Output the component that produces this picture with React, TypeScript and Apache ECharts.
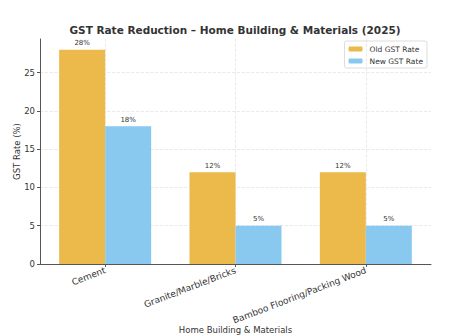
import React, { useEffect, useRef } from "react";
import * as echarts from "echarts";

const categories = ["Cement", "Granite/Marble/Bricks", "Bamboo Flooring/Packing Wood"];
const oldRates = [28, 12, 12];
const newRates = [18, 5, 5];
const seriesNames = ["Old GST Rate", "New GST Rate"];
const titleText = "GST Rate Reduction – Home Building & Materials (2025)";
const xName = "Home Building & Materials";
const yName = "GST Rate (%)";

const FONT = "DejaVu Sans";

export default function App() {
  const ref = useRef<HTMLDivElement>(null);
  useEffect(() => {
    if (!ref.current) return;
    const chart = echarts.init(ref.current, null, { renderer: "svg" });
    const labelCfg = {
      show: true,
      position: "top",
      distance: 3,
      fontFamily: FONT,
      fontSize: 7,
      color: "#333",
      formatter: (p: any) => `${p.value}%`,
    };
    chart.setOption({
      animation: false,
      backgroundColor: "#fff",
      textStyle: { fontFamily: FONT },
      title: {
        text: titleText,
        left: 235,
        textAlign: "center",
        top: 24,
        padding: 0,
        textStyle: { fontFamily: FONT, fontSize: 10.5, fontWeight: "bold", color: "#333" },
      },
      legend: {
        orient: "vertical",
        right: 24,
        top: 41,
        data: seriesNames,
        itemWidth: 14,
        itemHeight: 5,
        itemGap: 4,
        padding: [4, 4, 3, 4],
        borderColor: "#ddd",
        borderWidth: 1,
        borderRadius: 2,
        textStyle: { fontFamily: FONT, fontSize: 7.5, color: "#333", padding: [0, 0, 0, 2] },
      },
      grid: { left: 40, right: 20, top: 39, bottom: 72, containLabel: false, outerBoundsMode: "none" },
      xAxis: {
        type: "category",
        data: categories,
        name: xName,
        nameLocation: "middle",
        nameGap: 61,
        nameMoveOverlap: false,
        nameTextStyle: { fontFamily: FONT, fontSize: 8.5, color: "#333" },
        axisLine: { lineStyle: { color: "#555", width: 1 } },
        axisTick: { show: true, alignWithLabel: true, length: 3, lineStyle: { color: "#555" } },
        axisLabel: { rotate: 21, fontFamily: FONT, fontSize: 9, color: "#333", margin: 6, interval: 0 },
        splitLine: { show: true, alignWithLabel: true, lineStyle: { color: "#e4e4e4", type: "dashed", width: 0.8 } },
      },
      yAxis: {
        type: "value",
        min: 0,
        max: 29.4,
        interval: 5,
        name: yName,
        nameLocation: "middle",
        nameGap: 19,
        nameMoveOverlap: false,
        nameTextStyle: { fontFamily: FONT, fontSize: 8.5, color: "#333" },
        axisLine: { show: true, lineStyle: { color: "#555", width: 1 } },
        axisTick: { show: true, length: 3, lineStyle: { color: "#555" } },
        axisLabel: {
          fontFamily: FONT,
          fontSize: 8.5,
          color: "#333",
          margin: 5,
          showMaxLabel: false,
          formatter: (v: number) => (v % 5 === 0 ? String(v) : ""),
        },
        splitLine: { show: true, showMaxLine: false, lineStyle: { color: "#e4e4e4", type: "dashed", width: 0.8 } },
      },
      series: [
        {
          name: seriesNames[0],
          type: "bar",
          data: oldRates,
          barWidth: 46,
          barGap: "0%",
          itemStyle: { color: "#ECB94B" },
          label: labelCfg,
        },
        {
          name: seriesNames[1],
          type: "bar",
          data: newRates,
          barWidth: 46,
          barGap: "0%",
          itemStyle: { color: "#89C9EF" },
          label: labelCfg,
        },
      ],
    });
    return () => chart.dispose();
  }, []);
  return <div ref={ref} style={{ width: 451, height: 336, position: "absolute", left: 0, top: 0 }} />;
}
